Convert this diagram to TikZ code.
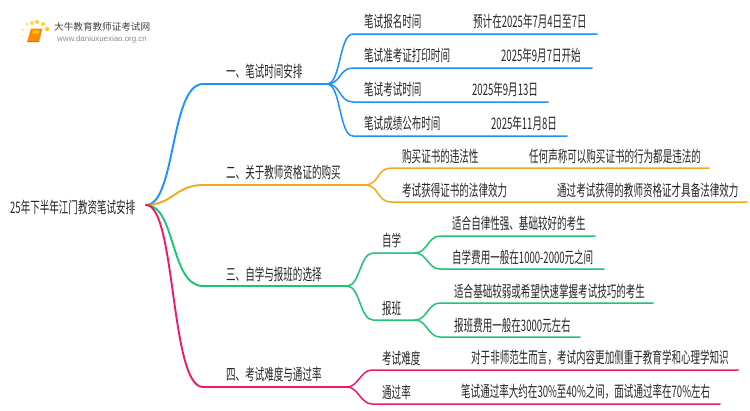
\documentclass[tikz,border=0pt]{standalone}
\usepackage{fontspec}
\usetikzlibrary{calc}
\setmainfont{Liberation Sans}
\newfontfamily\cjk[FakeStretch=0.6]{Noto Sans CJK SC}
\newfontfamily\cjklogo{Noto Sans CJK SC}
\definecolor{cblue}{HTML}{1E90FF}
\definecolor{corange}{HTML}{F5A81C}
\definecolor{cgreen}{HTML}{1CC574}
\definecolor{cpink}{HTML}{F0186E}
\tikzset{
  txt/.style={inner sep=0pt,anchor=west,font=\cjk\fontsize{15.9}{16}\selectfont,text=black!85},
  wire/.style={line width=1.5pt,line cap=round,line join=round},
  thick wire/.style={line width=1.9pt,line cap=round},
  bl/.style={wire,cblue}, orw/.style={wire,corange}, gr/.style={wire,cgreen}, pk/.style={wire,cpink}
}
\begin{document}
\begin{tikzpicture}[x=1pt,y=-1pt]
\useasboundingbox (0,0) rectangle (750,410);
% logo
\fill[yellow!70!orange,opacity=.6] (27,24) circle (1.5);
\fill[yellow!70!orange,opacity=.8] (32,23) circle (2);
\fill[yellow!70!orange,opacity=.9] (37,22) circle (2);
\fill[yellow!70!orange,opacity=.9] (43,24) circle (2);
\fill[yellow!70!orange] (47,29) circle (2.2);
\fill[yellow!70!orange,opacity=.5] (23,30) circle (1.3);
\fill[yellow!70!orange,opacity=.4] (22,36) circle (1.2);
\fill[yellow!70!orange,opacity=.3] (23,42) circle (1);
\fill[orange!90!yellow] (31,28.5) -- (42.5,28.5) -- (39,42) -- (27,42) -- cycle;
\fill[yellow!60!orange] (33,30.5) -- (39.5,30.5) -- (39,33.5) -- (32.3,33.5) -- cycle;
\draw[orange!80!red,line width=.8pt] (27,41) -- (39,41);
\node[inner sep=0pt,anchor=west,font=\cjklogo\fontsize{9.6}{12}\selectfont,text=black!75] (logoa) at (54,27) {大牛教育教师证考试网};
\node[inner sep=0pt,anchor=west,font=\fontsize{7.9}{8}\selectfont,text=black!45] (logob) at (57,39) {www.daniuxuexiao.org.cn};
% junction coordinates
\coordinate (rt) at (146,205);
\coordinate (a1) at (203,84);  \coordinate (a1e) at (327,84);
\coordinate (a2) at (203,185); \coordinate (a2e) at (365,185);
\coordinate (a3) at (203,286); \coordinate (a3e) at (347,286);
\coordinate (a4) at (203,387); \coordinate (a4e) at (347,387);
% text
\node[txt] (root) at (10,207) {25年下半年江门教资笔试安排};
\node[txt] (n1) at (226,71) {一、笔试时间安排};
\node[txt] (n2) at (226,172) {二、关于教师资格证的购买};
\node[txt] (n3) at (226,274) {三、自学与报班的选择};
\node[txt] (n4) at (226,374) {四、考试难度与通过率};
\node[txt] (b1) at (364,21) {笔试报名时间};
\node[txt] (b1v) at (473,21) {预计在2025年7月4日至7日};
\node[txt] (b2) at (364,55) {笔试准考证打印时间};
\node[txt] (b2v) at (501,55) {2025年9月7日开始};
\node[txt] (b3) at (364,89) {笔试考试时间};
\node[txt] (b3v) at (472,89) {2025年9月13日};
\node[txt] (b4) at (364,123) {笔试成绩公布时间};
\node[txt] (b4v) at (491,123) {2025年11月8日};
\node[txt] (c1) at (402,156) {购买证书的违法性};
\node[txt] (c1v) at (529,156) {任何声称可以购买证书的行为都是违法的};
\node[txt] (c2) at (402,190) {考试获得证书的法律效力};
\node[txt] (c2v) at (557,190) {通过考试获得的教师资格证才具备法律效力};
\node[txt] (d1) at (382,240) {自学};
\node[txt] (d2) at (382,308) {报班};
\node[txt] (d1a) at (452,223) {适合自律性强、基础较好的考生};
\node[txt] (d1b) at (452,257) {自学费用一般在1000-2000元之间};
\node[txt] (d2a) at (454,291) {适合基础较弱或希望快速掌握考试技巧的考生};
\node[txt] (d2b) at (454,325) {报班费用一般在3000元左右};
\node[txt] (e1) at (382,358) {考试难度};
\node[txt] (e1v) at (471,358) {对于非师范生而言，考试内容更加侧重于教育学和心理学知识};
\node[txt] (e2) at (382,392) {通过率};
\node[txt] (e2v) at (461,392) {笔试通过率大约在30\%至40\%之间，面试通过率在70\%左右};
% level 1
\draw[thick wire,cblue] (rt) .. controls (176,205) and (170,84) .. (a1) -- (a1e);
\draw[thick wire,corange] (rt) .. controls (172,205) and (176,185) .. (a2) -- (a2e);
\draw[thick wire,cgreen] (rt) .. controls (176,205) and (170,286) .. (a3) -- (a3e);
\draw[thick wire,cpink] (rt) .. controls (176,205) and (170,387) .. (a4) -- (a4e);
% level 2
\coordinate (u1) at (353,34);  \coordinate (u1e) at (597,34);
\coordinate (u2) at (353,68);  \coordinate (u2e) at (592,68);
\coordinate (u3) at (353,102); \coordinate (u3e) at (548,102);
\coordinate (u4) at (353,136); \coordinate (u4e) at (567,136);
\foreach \u in {u1,u2,u3,u4}{\draw[bl] (a1e) .. controls ($(a1e)+(14,0)$) and ($(\u)+(-14,0)$) .. (\u) -- (\u e);}
\coordinate (v1) at (391,168); \coordinate (v1e) at (709,168);
\coordinate (v2) at (391,202); \coordinate (v2e) at (747,202);
\foreach \u in {v1,v2}{\draw[orw] (a2e) .. controls ($(a2e)+(14,0)$) and ($(\u)+(-14,0)$) .. (\u) -- (\u e);}
\coordinate (w1) at (373,253); \coordinate (w1e) at (415,253);
\coordinate (w2) at (373,320); \coordinate (w2e) at (415,320);
\foreach \u in {w1,w2}{\draw[gr] (a3e) .. controls ($(a3e)+(13,0)$) and ($(\u)+(-13,0)$) .. (\u) -- (\u e);}
\coordinate (x1) at (440,236); \coordinate (x1e) at (595,236);
\coordinate (x2) at (440,269); \coordinate (x2e) at (604,269);
\foreach \u in {x1,x2}{\draw[gr] (w1e) .. controls ($(w1e)+(12,0)$) and ($(\u)+(-12,0)$) .. (\u) -- (\u e);}
\coordinate (y1) at (440,303); \coordinate (y1e) at (653,303);
\coordinate (y2) at (440,337); \coordinate (y2e) at (580,337);
\foreach \u in {y1,y2}{\draw[gr] (w2e) .. controls ($(w2e)+(12,0)$) and ($(\u)+(-12,0)$) .. (\u) -- (\u e);}
\coordinate (z1) at (372,370); \coordinate (z1e) at (738,370);
\coordinate (z2) at (372,404); \coordinate (z2e) at (720,404);
\foreach \u in {z1,z2}{\draw[pk] (a4e) .. controls ($(a4e)+(11,0)$) and ($(\u)+(-11,0)$) .. (\u) -- (\u e);}
\end{tikzpicture}
\end{document}
